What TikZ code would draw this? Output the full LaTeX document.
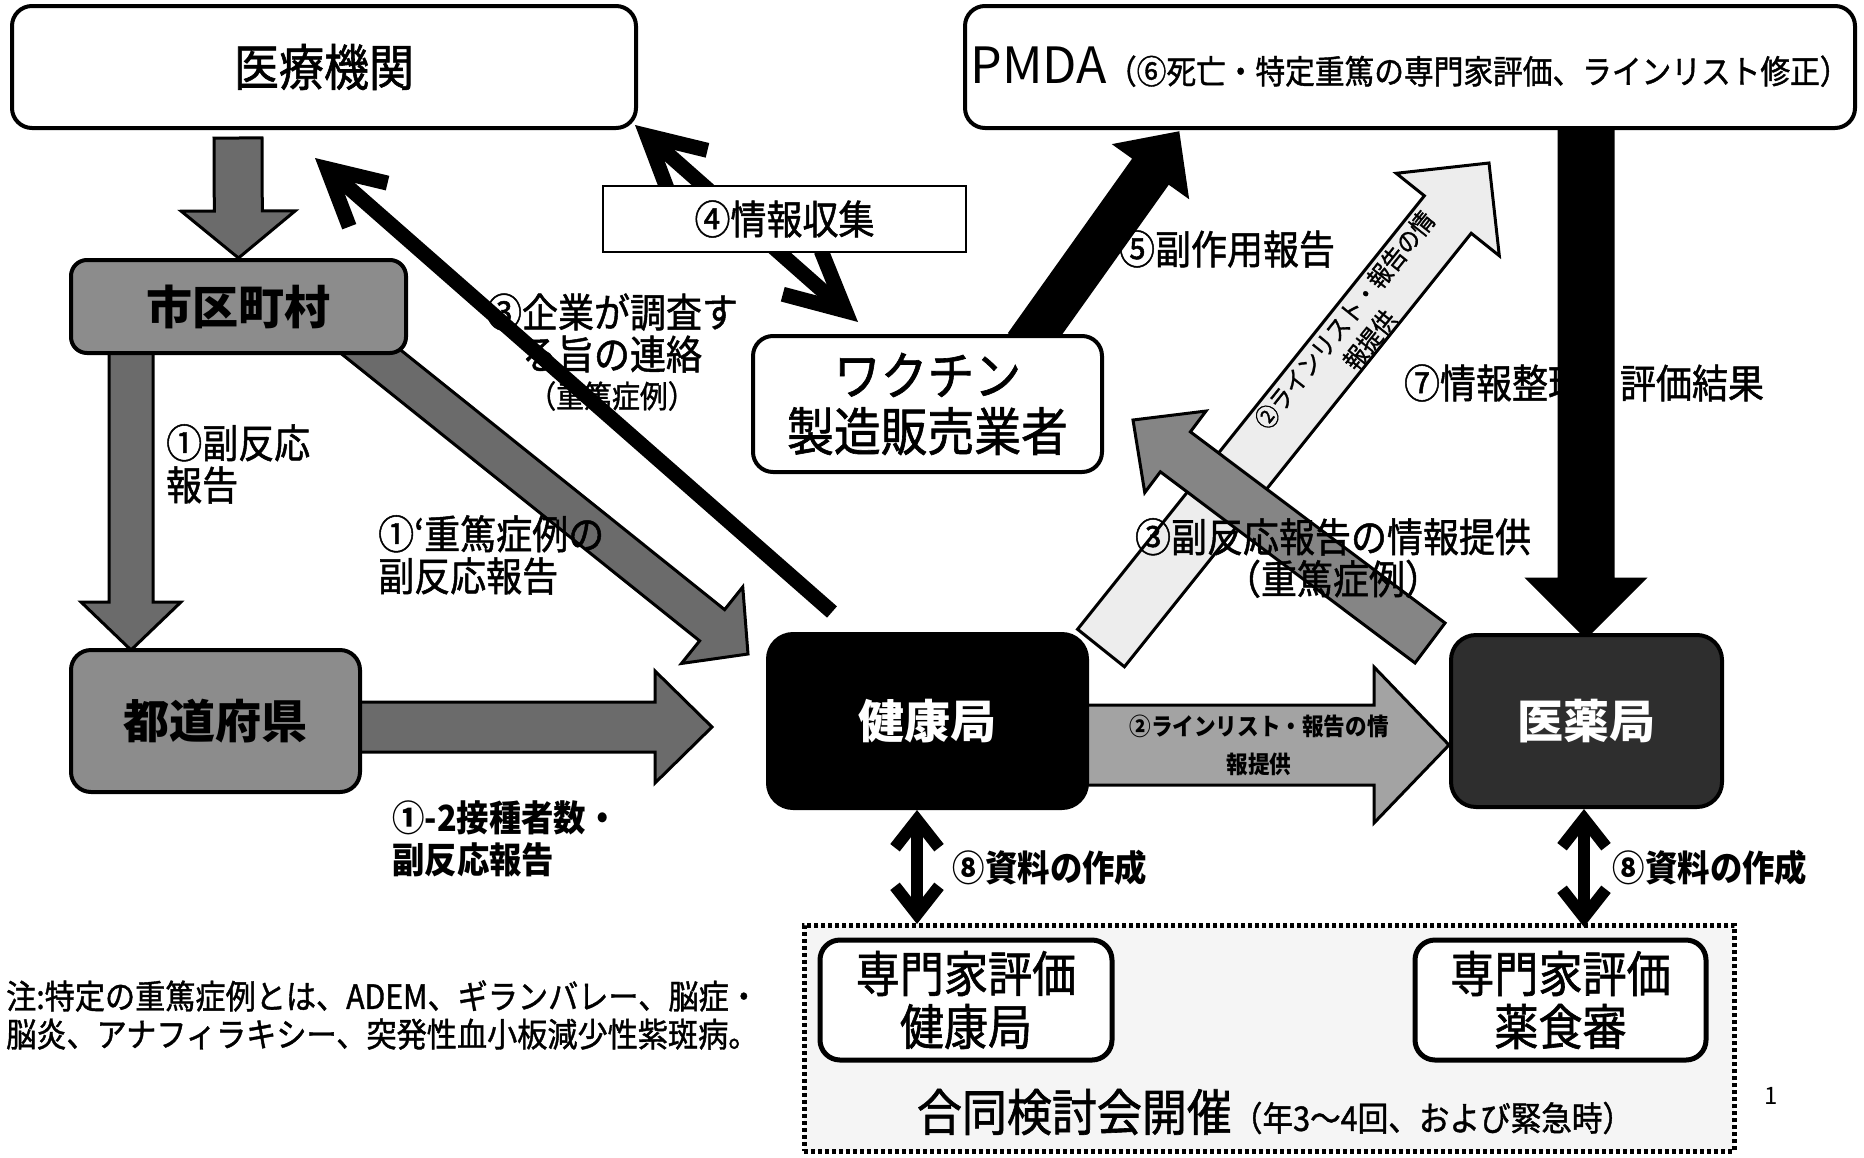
\documentclass[tikz,border=0pt]{standalone}
\usepackage{fontspec}
\setmainfont{Noto Sans CJK JP}
\newfontfamily\jpc{Noto Sans CJK JP}[FakeStretch=0.9]
\newfontfamily\jpm{Noto Sans CJK JP}[FakeStretch=0.9, FakeBold=1.2]
\usetikzlibrary{calc,arrows.meta}
\pgfdeclarelayer{bgl}
\pgfdeclarelayer{back}
\pgfdeclarelayer{arr}
\pgfsetlayers{bgl,back,arr,main}
\definecolor{gdark}{gray}{0.42}
\definecolor{gbox}{gray}{0.55}
\definecolor{gmid}{gray}{0.52}
\definecolor{glight}{gray}{0.64}
\definecolor{gpale}{gray}{0.93}
\definecolor{gyk}{gray}{0.18}
\definecolor{gbg}{gray}{0.96}
\newcommand{\blkarrow}[6]{%
  \coordinate (bh) at ($(#3)!#6!(#2)$);
  \draw[#1] ($(#2)!#4!90:(#3)$) -- ($(bh)!#4!90:(#3)$) -- ($(bh)!#5!90:(#3)$) -- (#3)
    -- ($(bh)!#5!-90:(#3)$) -- ($(bh)!#4!-90:(#3)$) -- ($(#2)!#4!-90:(#3)$) -- cycle;}
\begin{document}
\begin{tikzpicture}[x=1pt,y=-1pt,
  box/.style={draw=black, line width=4pt, rounded corners=20pt, inner sep=0pt, align=center},
  lbl/.style={inner sep=0pt, align=left, font=\jpm\fontsize{40}{42}\selectfont},
  blbl/.style={inner sep=0pt, align=left, font=\bfseries\jpc\fontsize{36}{42}\selectfont},
  barrow/.style={draw=black, line width=3pt, line join=miter, fill=#1},
  linearr/.style={draw=black, line width=15pt},
  dblarr/.style={draw=black, line width=12pt, {Straight Barb[length=28pt,width=44pt]}-{Straight Barb[length=28pt,width=44pt]}}]
\begin{pgfonlayer}{bgl}
\fill[white] (0,0) rectangle (1864,1157);
\end{pgfonlayer}
\useasboundingbox (0,0) rectangle (1864,1157);

% ---------- boxes ----------
\node[box, minimum width=624pt, minimum height=122pt, fill=white, font=\jpm\fontsize{50}{55}\selectfont] (ik) at (324,67) {医療機関};
\node[box, minimum width=890pt, minimum height=122pt, fill=white] (pmda) at (1410,67) {{\fontsize{50}{55}\selectfont PMDA}{\jpm\fontsize{33}{36}\selectfont （⑥死亡・特定重篤の専門家評価、ラインリスト修正）}};
\node[box, minimum width=335pt, minimum height=93pt, fill=gbox, rounded corners=16pt, font=\bfseries\fontsize{46}{55}\selectfont] (shi) at (238.5,306.5) {市区町村};
\node[box, minimum width=289pt, minimum height=142pt, fill=gbox, font=\bfseries\fontsize{46}{55}\selectfont] (tdf) at (215.5,721) {都道府県};
\node[box, minimum width=319pt, minimum height=174pt, fill=black, text=white, rounded corners=25pt, font=\bfseries\fontsize{46}{55}\selectfont] (kk) at (927.5,721) {健康局};
\node[box, minimum width=271pt, minimum height=172pt, fill=gyk, text=white, rounded corners=25pt, font=\bfseries\fontsize{46}{55}\selectfont] (iy) at (1586.5,721) {医薬局};
\node[box, minimum width=349pt, minimum height=136pt, fill=white, font=\jpm\fontsize{52}{56}\selectfont] (wk) at (927.5,404) {ワクチン\\製造販売業者};
\node[draw=black, line width=1.5pt, fill=white, minimum width=363pt, minimum height=66pt, inner sep=0pt, font=\jpm\fontsize{40}{42}\selectfont] (jk) at (784.5,219) {④情報収集};

\begin{pgfonlayer}{back}
\node[draw=black, line width=5pt, dash pattern=on 4pt off 3pt, fill=gbg, minimum width=930pt, minimum height=226pt] (dash) at (1269,1038) {};
\node[lbl, align=center] (l3k) at (612,333) {③企業が調査す\\る旨の連絡};
\node[lbl, font=\jpm\fontsize{31}{34}\selectfont] (l3ks) at (612,396) {（重篤症例）};
\node[lbl] (l7) at (1584,383) {⑦情報整理・評価結果};
\end{pgfonlayer}

\node[box, line width=5pt, minimum width=292pt, minimum height=120pt, fill=white, font=\jpm\fontsize{49}{53}\selectfont] (s1) at (966,1000) {専門家評価\\健康局};
\node[box, line width=5pt, minimum width=291pt, minimum height=120pt, fill=white, font=\jpm\fontsize{49}{53}\selectfont] (s2) at (1560.5,1000) {専門家評価\\薬食審};

% ---------- coordinates ----------
\coordinate (a1s) at (238,138);
\coordinate (a2s) at (131,345);  \coordinate (a2t) at (131,650);
\coordinate (a3s) at (340,327);  \coordinate (a3t) at (748,654);
\coordinate (a4s) at (350,727);  \coordinate (a4t) at (712,727);
\coordinate (a5s) at (1080,745); \coordinate (a5t) at (1449,745);
\coordinate (a6s) at (1101,648); \coordinate (a6t) at (1489,163);
\coordinate (a7s) at (1430,643); \coordinate (a7t) at (1133,420);
\coordinate (a8s) at (1586,120); \coordinate (a8t) at (1586,637);
\coordinate (a9s) at (1027,345); \coordinate (a9t) at (1178,133);
\coordinate (l1s) at (832,612);  \coordinate (l1t) at (315,158);
\coordinate (l2s) at (635,125);  \coordinate (l2t) at (858,322);
\coordinate (l3s) at (917,810);  \coordinate (l3t) at (917,924);
\coordinate (l4s) at (1584,809); \coordinate (l4t) at (1584,927);

% ---------- connectors ----------
\begin{pgfonlayer}{arr}
\blkarrow{barrow=gdark}{a1s}{shi.north}{24pt}{57pt}{47pt}
\blkarrow{barrow=gdark}{a2s}{a2t}{22pt}{50pt}{48pt}
\blkarrow{barrow=gdark}{a3s}{a3t}{20pt}{49pt}{46pt}
\blkarrow{barrow=gdark}{a4s}{a4t}{25pt}{56pt}{57pt}
\blkarrow{barrow=glight}{a5s}{a5t}{40pt}{78pt}{75pt}
\blkarrow{barrow=gpale}{a6s}{a6t}{30pt}{66pt}{66pt}
\blkarrow{barrow=gmid}{a7s}{a7t}{25pt}{51pt}{53pt}
\blkarrow{barrow=black}{a8s}{a8t}{27pt}{58pt}{58pt}
\blkarrow{barrow=black}{a9s}{a9t}{21pt}{44pt}{46pt}
\draw[linearr, -{Straight Barb[length=55pt,width=58pt]}] (l1s) -- (l1t);
\draw[linearr, {Straight Barb[length=55pt,width=58pt]}-{Straight Barb[length=58pt,width=58pt]}] (l2s) -- (l2t);
\draw[dblarr] (l3s) -- (l3t);
\draw[dblarr] (l4s) -- (l4t);
\end{pgfonlayer}

% ---------- labels ----------
\node[lbl, anchor=north west] (lb1) at (166,424) {①副反応\\報告};
\node[lbl, anchor=north west] (lb1p) at (378,515) {①‘重篤症例の\\副反応報告};
\node[blbl, anchor=north west] (lb12) at (392,800) {①-2接種者数・\\副反応報告};
\node[lbl] (lb5) at (1227,249) {⑤副作用報告};
\node[lbl, align=center] (lb3) at (1333,558) {③副反応報告の情報提供\\（重篤症例）};
\node[blbl] (lb8a) at (1050,868) {⑧資料の作成};
\node[blbl] (lb8b) at (1710,868) {⑧資料の作成};
\node[inner sep=0pt, align=center, font=\bfseries\jpc\fontsize{24}{38}\selectfont] (lb2h) at (1259,745) {②ラインリスト・報告の情\\報提供};
\node[inner sep=0pt, align=center, rotate=51.3, font=\jpm\fontsize{25}{32}\selectfont] (lb2d) at (1357,330) {②ラインリスト・報告の情\\報提供};
\node[inner sep=0pt] (gd) at (1275,1112) {{\jpm\fontsize{50}{54}\selectfont 合同検討会開催}{\jpm\fontsize{34}{36}\selectfont （年3～4回、および緊急時）}};
\node[inner sep=0pt, anchor=west, align=left, font=\jpm\fontsize{33.5}{38}\selectfont] (note) at (6,1015) {注:特定の重篤症例とは、ADEM、ギランバレー、脳症・\\脳炎、アナフィラキシー、突発性血小板減少性紫斑病。};
\node[inner sep=0pt, font=\fontsize{24}{28}\selectfont] (pg) at (1771,1096) {1};
\end{tikzpicture}
\end{document}
